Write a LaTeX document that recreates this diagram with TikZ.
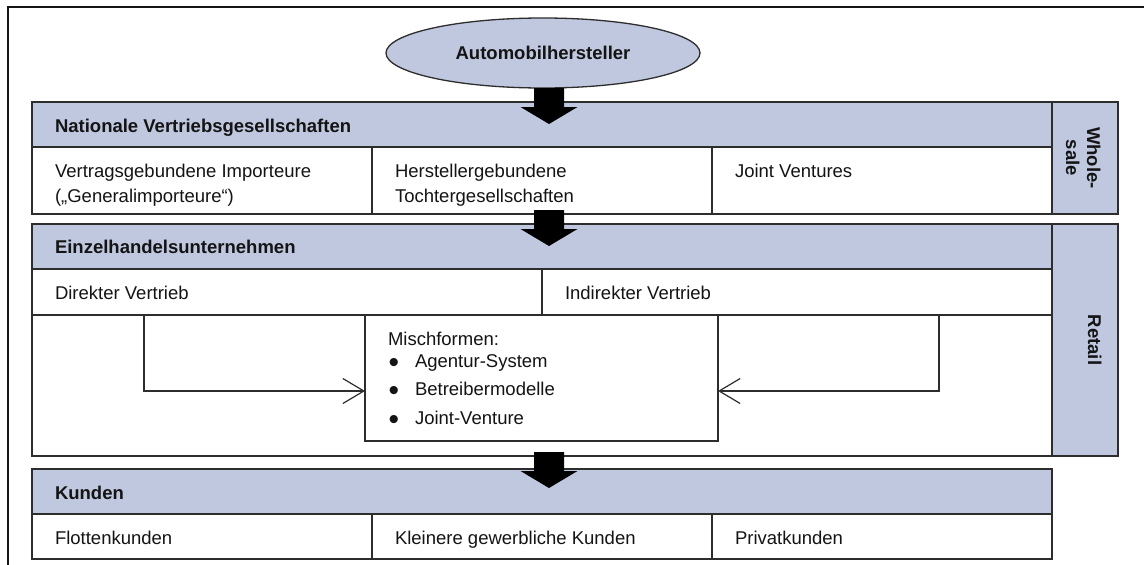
\documentclass[tikz,border=0pt]{standalone}
\usepackage{fontspec}
\setmainfont{Liberation Sans}
\usetikzlibrary{calc,shapes.geometric,arrows.meta}
\definecolor{bandblue}{RGB}{192,200,224}
\definecolor{edge}{RGB}{45,45,45}
\definecolor{ink}{RGB}{20,20,20}
\newcommand{\bigdot}{\makebox[26.4pt][l]{\raisebox{-5.5pt}{\fontsize{30}{25}\selectfont\textbullet}}}

\begin{document}
\begin{tikzpicture}[x=1pt,y=-1pt,
  every node/.style={font=\fontsize{18.5}{25}\selectfont, text=ink, inner sep=0pt, outer sep=0pt},
  box/.style={draw=edge, line width=1.3pt, anchor=north west},
  band/.style={box, fill=bandblue},
  cell/.style={box, fill=white},
  lbl/.style={anchor=base west, align=left},
  hdr/.style={anchor=base west, font=\fontsize{18.5}{25}\selectfont\bfseries},
  vert/.style={anchor=base, rotate=-90, font=\fontsize{18.5}{21}\selectfont\bfseries},
  frame/.style={draw=ink, line width=2pt},
  conn/.style={draw=edge, line width=1.2pt,
    -{Straight Barb[length=21pt,width=25pt,line width=1.2pt]}},
  blockarrow/.pic={\fill[black] (-15,0) -- (-15,19) -- (-28.5,19) -- (0,36)
    -- (28.5,19) -- (15,19) -- (15,0) -- cycle;}
]
\useasboundingbox (0,0) rectangle (1144,565);

% outer frame
\draw[frame] (8,570) -- (8,7) -- (1150,7);

% manufacturer
\node[ellipse, draw=edge, fill=bandblue, line width=1.3pt, minimum width=314pt,
  minimum height=70pt, font=\fontsize{18.5}{25}\selectfont\bfseries]
  (hersteller) at (543,53) {Automobilhersteller};

% wholesale level
\node[band, minimum width=1020pt, minimum height=45pt] (nvg) at (32,102) {};
\node[cell, minimum width=340pt, minimum height=67pt] (imp) at (32,147) {};
\node[cell, minimum width=340pt, minimum height=67pt] (toch) at (372,147) {};
\node[cell, minimum width=340pt, minimum height=67pt] (jv) at (712,147) {};
\node[band, minimum width=66pt, minimum height=112pt] (whs) at (1052,102) {};

% two-line labels sit on the baseline of their last line
\node[hdr] (nvgT) at ($(nvg.north west)+(23,30)$) {Nationale Vertriebsgesellschaften};
\node[lbl] (impT) at ($(imp.north west)+(23,55)$) {Vertragsgebundene Importeure\\(„Generalimporteure“)};
\node[lbl] (tochT) at ($(toch.north west)+(23,55)$) {Herstellergebundene\\Tochtergesellschaften};
\node[lbl] (jvT) at ($(jv.north west)+(23,30)$) {Joint Ventures};
\node[vert] (whsA) at (1087,158) {Whole-};
\node[vert] (whsB) at (1066,158) {sale};

% retail level
\node[band, minimum width=1020pt, minimum height=45pt] (ehu) at (32,224) {};
\node[cell, minimum width=510pt, minimum height=46pt] (direkt) at (32,269) {};
\node[cell, minimum width=510pt, minimum height=46pt] (indirekt) at (542,269) {};
\node[cell, minimum width=1020pt, minimum height=141pt] (retbody) at (32,315) {};
\node[band, minimum width=66pt, minimum height=232pt] (rts) at (1052,224) {};
\node[cell, minimum width=353pt, minimum height=126pt] (mix) at (365,315) {};

\node[hdr] (ehuT) at ($(ehu.north west)+(23,29.5)$) {Einzelhandelsunternehmen};
\node[lbl] (direktT) at ($(direkt.north west)+(23,30)$) {Direkter Vertrieb};
\node[lbl] (indirektT) at ($(indirekt.north west)+(23,30)$) {Indirekter Vertrieb};
\node[lbl] (mixT) at ($(mix.north west)+(23,30)$) {Mischformen:};
\node[lbl] (mixA) at ($(mix.north west)+(23.6,52)$) {\bigdot Agentur-System};
\node[lbl] (mixB) at ($(mix.north west)+(23.6,80)$) {\bigdot Betreibermodelle};
\node[lbl] (mixC) at ($(mix.north west)+(23.6,109)$) {\bigdot Joint-Venture};
\node[vert] (rtsT) at (1088,340) {Retail};

% customers
\node[band, minimum width=1020pt, minimum height=45pt] (kund) at (32,469) {};
\node[cell, minimum width=340pt, minimum height=45pt] (flotte) at (32,514) {};
\node[cell, minimum width=340pt, minimum height=45pt] (gewerb) at (372,514) {};
\node[cell, minimum width=340pt, minimum height=45pt] (privat) at (712,514) {};

\node[hdr] (kundT) at ($(kund.north west)+(23,30)$) {Kunden};
\node[lbl] (flotteT) at ($(flotte.north west)+(23,30)$) {Flottenkunden};
\node[lbl] (gewerbT) at ($(gewerb.north west)+(23,30)$) {Kleinere gewerbliche Kunden};
\node[lbl] (privatT) at ($(privat.north west)+(23,30)$) {Privatkunden};

% connectors into the mixed forms
\coordinate (dl) at ($(direkt.south west)+(112,0)$);
\coordinate (mixl) at ($(mix.north west)+(0,76)$);
\coordinate (il) at ($(indirekt.south east)+(-113,0)$);
\coordinate (mixr) at ($(mix.north east)+(0,76)$);
\draw[conn] (dl) |- (mixl);
\draw[conn] (il) |- (mixr);

% block arrows between the levels
\coordinate (a1) at ($(hersteller.south)+(6,0)$);
\coordinate (a2) at ($(toch.south west)+(177,-4)$);
\coordinate (a3) at ($(retbody.south west)+(517,-4)$);
\pic at (a1) {blockarrow};
\pic at (a2) {blockarrow};
\pic at (a3) {blockarrow};
\end{tikzpicture}
\end{document}
